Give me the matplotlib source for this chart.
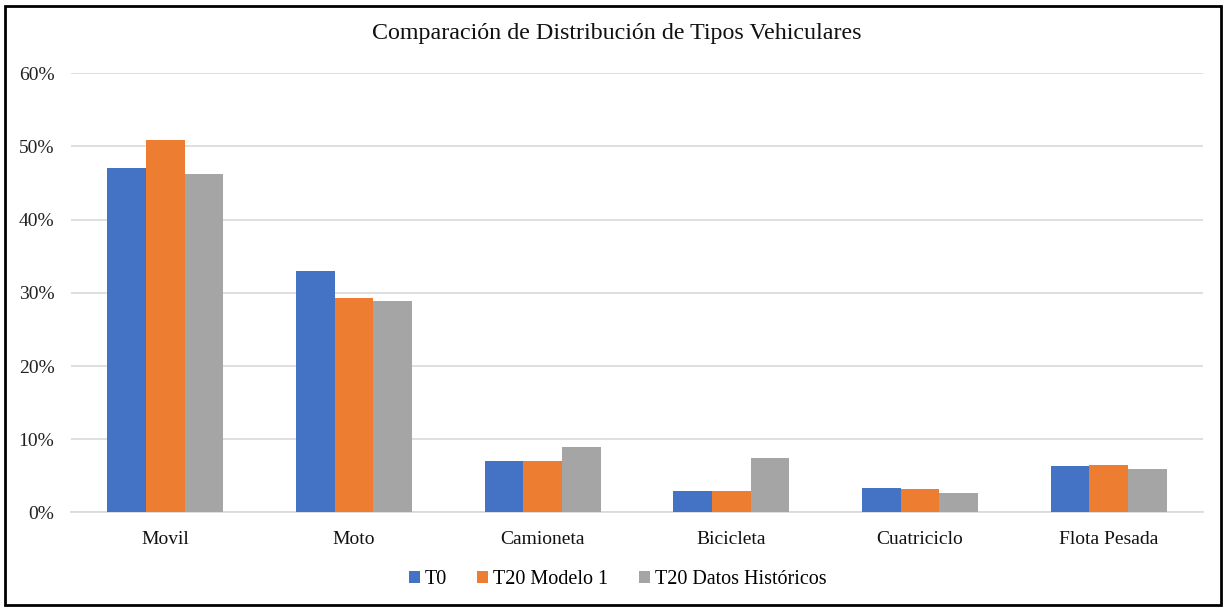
import numpy as np
import matplotlib
matplotlib.use("Agg")
import matplotlib.pyplot as plt
from matplotlib.patches import Rectangle
from matplotlib.ticker import PercentFormatter

# -----------------------------
# Data
# -----------------------------
categorias = ["Movil", "Moto", "Camioneta", "Bicicleta", "Cuatriciclo", "Flota Pesada"]
t0 = [47.0, 33.0, 7.0, 3.0, 3.4, 6.3]
t20_modelo1 = [50.8, 29.3, 7.0, 3.0, 3.2, 6.5]
t20_historicos = [46.2, 28.9, 9.0, 7.4, 2.6, 5.9]

series = ["T0", "T20 Modelo 1", "T20 Datos Históricos"]
colores = ["#4472C4", "#ED7D31", "#A5A5A5"]

plt.rcParams['font.family'] = ['Liberation Serif', 'DejaVu Serif']

# -----------------------------
# Plot
# -----------------------------
fig = plt.figure(figsize=(12.23, 6.07), dpi=100)
ax = fig.add_axes([0.0581, 0.1557, 0.9255, 0.7240])

x = np.arange(len(categorias))
ancho = 0.205
for i, (vals, nombre, c) in enumerate(zip([t0, t20_modelo1, t20_historicos], series, colores)):
    ax.bar(x + (i - 1) * ancho, np.array(vals) / 100, width=ancho, color=c,
           label=nombre, zorder=3)

ax.set_xlim(-0.5, len(categorias) - 0.5)
ax.set_ylim(0, 0.6)
ax.set_yticks(np.arange(0, 0.61, 0.1))
ax.yaxis.set_major_formatter(PercentFormatter(1.0, decimals=0))
ax.set_xticks(x)
ax.set_xticklabels(categorias)
ax.tick_params(axis='y', length=0, pad=12, labelsize=14, colors='#222222')
ax.tick_params(axis='x', length=0, pad=13, labelsize=14, colors='#111111')
ax.grid(axis='y', color='#d9d9d9', linewidth=1.2, zorder=0)
for s in ['top', 'right', 'left']:
    ax.spines[s].set_visible(False)
ax.spines['bottom'].set_color('#d9d9d9')
ax.spines['bottom'].set_linewidth(1.2)

fig.text(0.504, 0.944, "Comparación de Distribución de Tipos Vehiculares",
         ha='center', va='center', fontsize=17.3, color='#111111')

fig.legend(loc='center', bbox_to_anchor=(0.505, 0.045), ncol=3, frameon=False,
           fontsize=14.5, handlelength=0.55, handleheight=0.55, handletextpad=0.25,
           columnspacing=1.5)

# black frame around the figure
fig.patches.append(Rectangle((0.004, 0.003), 0.994, 0.987, transform=fig.transFigure,
                             fill=False, edgecolor='black', linewidth=2))

fig.savefig("out.png", dpi=100, facecolor='white')
